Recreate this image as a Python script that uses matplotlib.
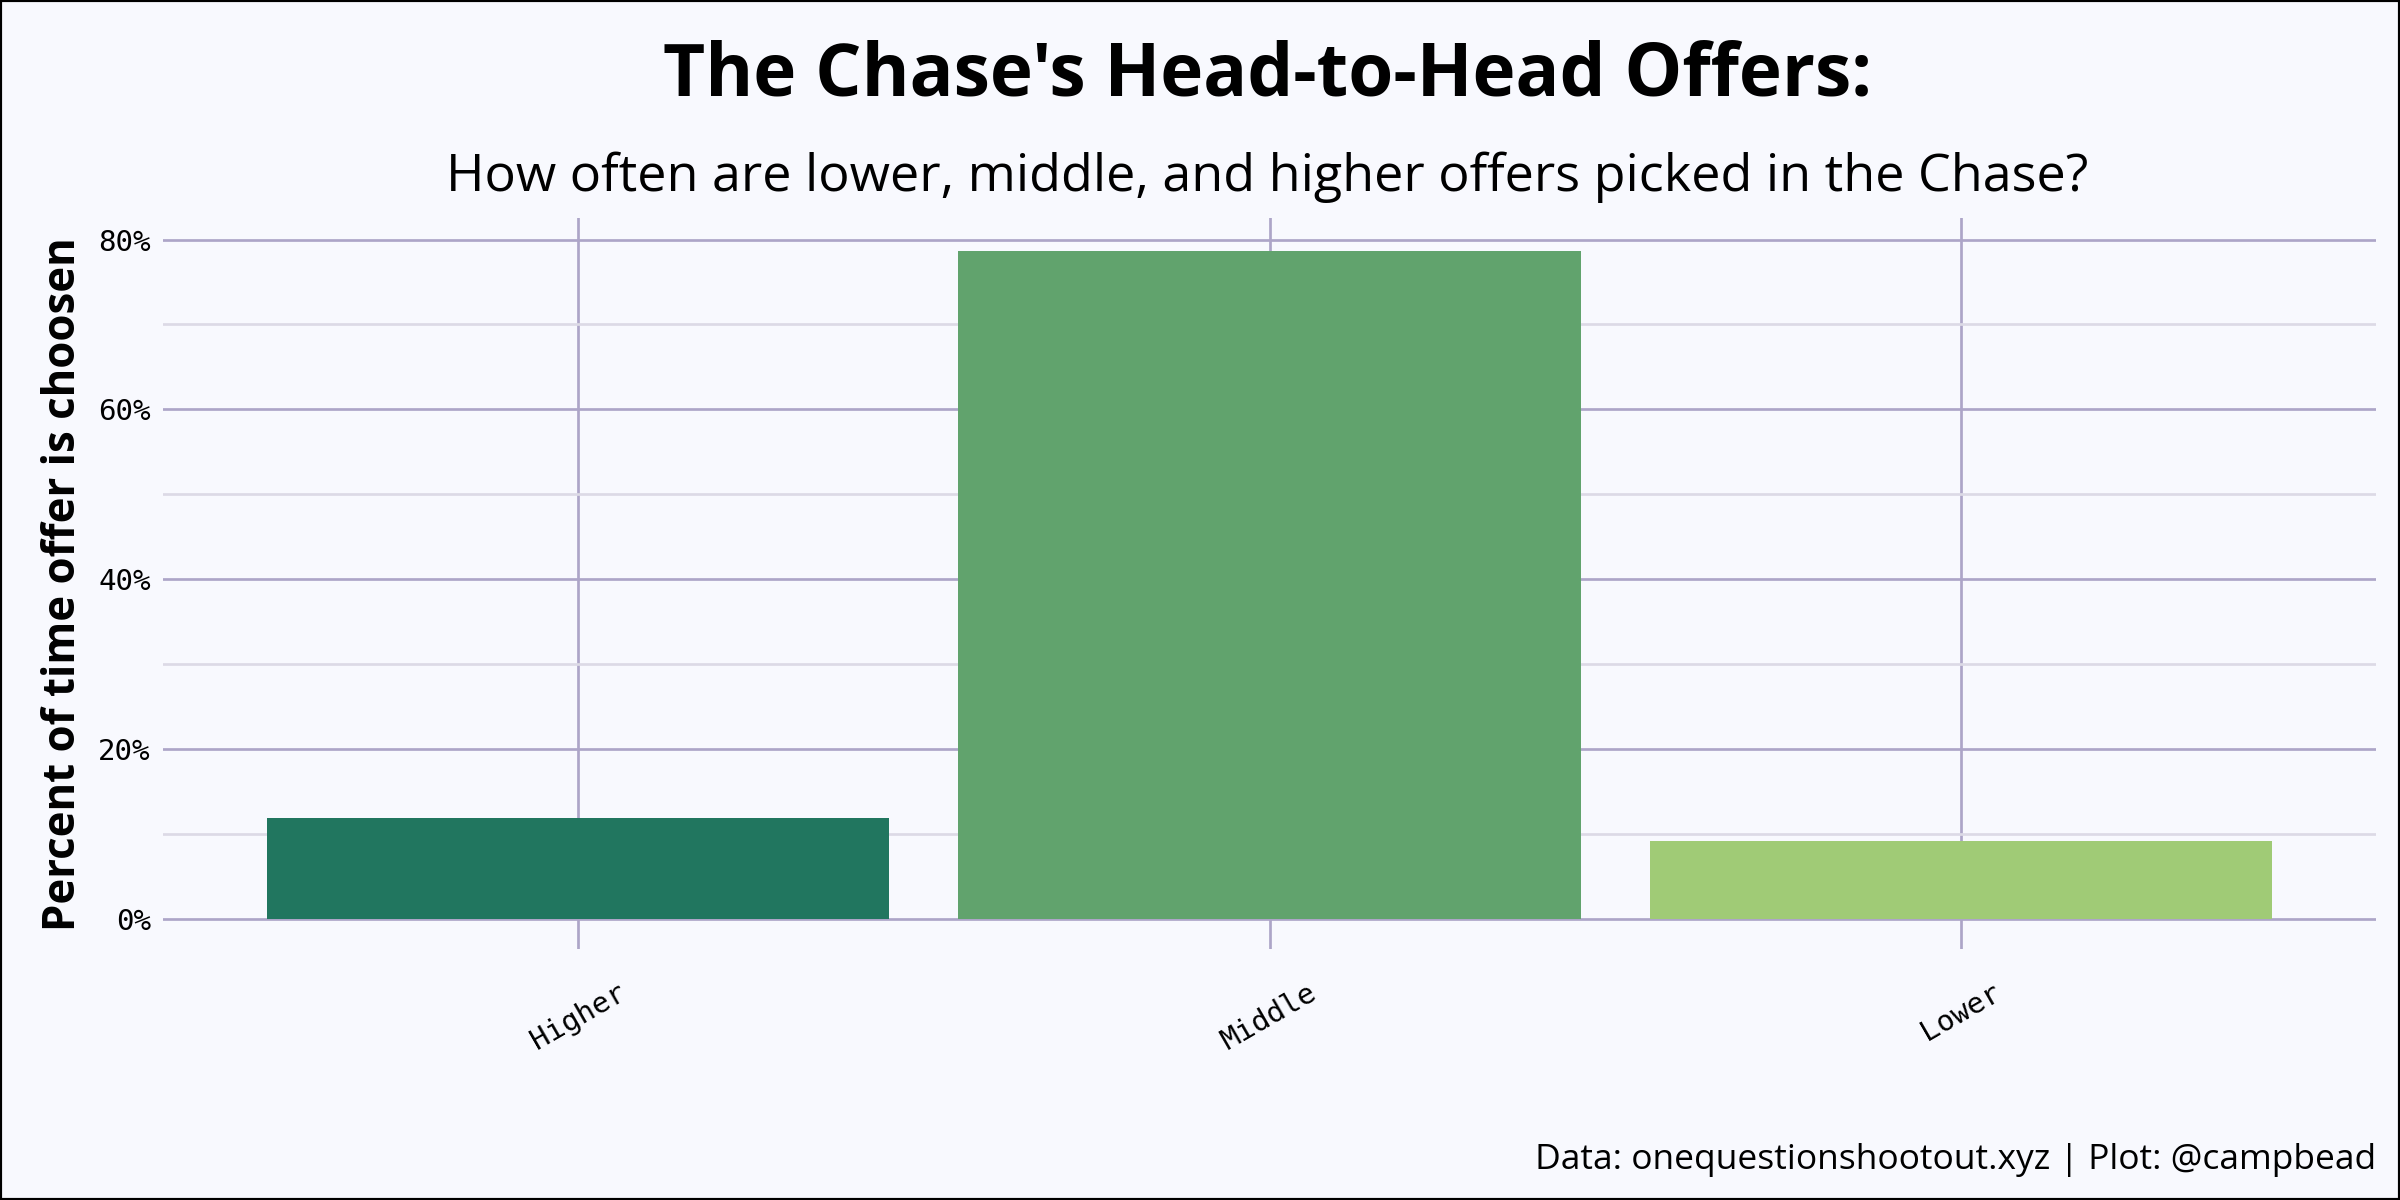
import matplotlib
matplotlib.use("Agg")
import matplotlib.pyplot as plt
from matplotlib.ticker import MultipleLocator, FuncFormatter

categories = ["Higher", "Middle", "Lower"]
values = [11.9, 78.7, 9.2]
colors = ["#21765F", "#61A36D", "#A0CB76"]

bg = "#F8F9FE"
fig = plt.figure(figsize=(16, 8), dpi=150, facecolor=bg)
ax = fig.add_axes([0.068, 0.209, 0.922, 0.609], facecolor=bg)
x = list(range(len(categories)))
ax.bar(x, values, width=0.9, color=colors, zorder=3)
ax.set_xlim(-0.6, 2.6)
ax.set_ylim(-3.6, 82.5)
ax.yaxis.set_major_locator(MultipleLocator(20))
ax.yaxis.set_minor_locator(MultipleLocator(10))
ax.yaxis.set_major_formatter(FuncFormatter(lambda v, p: f"{int(v)}%"))
ax.set_xticks(x)
ax.set_xticklabels(categories, rotation=30, family="DejaVu Sans Mono", fontsize=14)
for lab in ax.get_yticklabels():
    lab.set_family("DejaVu Sans Mono"); lab.set_fontsize(14)
ax.grid(axis="y", which="major", color="#ADA5C8", lw=1.3, zorder=0)
ax.grid(axis="y", which="minor", color="#DCDAE6", lw=1.3, zorder=0)
ax.grid(axis="x", which="major", color="#ADA5C8", lw=1.3, zorder=0)
ax.tick_params(axis="both", which="both", length=0, pad=6)
ax.tick_params(axis="x", pad=14)
for s in ax.spines.values():
    s.set_visible(False)
ax.set_ylabel("Percent of time offer is choosen", family="Open Sans", fontsize=21, fontweight="bold", labelpad=6)
fig.text(0.528, 0.936, "The Chase's Head-to-Head Offers:", ha="center", va="center",
         family="Open Sans", fontsize=35, fontweight="bold")
fig.text(0.528, 0.852, "How often are lower, middle, and higher offers picked in the Chase?",
         ha="center", va="center", family="Open Sans", fontsize=25)
fig.text(0.99, 0.033, "Data: onequestionshootout.xyz | Plot: @campbead", ha="right", va="center",
         family="Open Sans", fontsize=17)
fig.patches.append(plt.Rectangle((0, 0), 1, 1, transform=fig.transFigure, fill=False,
                                 edgecolor="black", lw=2))
fig.savefig("out.png", facecolor=bg)
